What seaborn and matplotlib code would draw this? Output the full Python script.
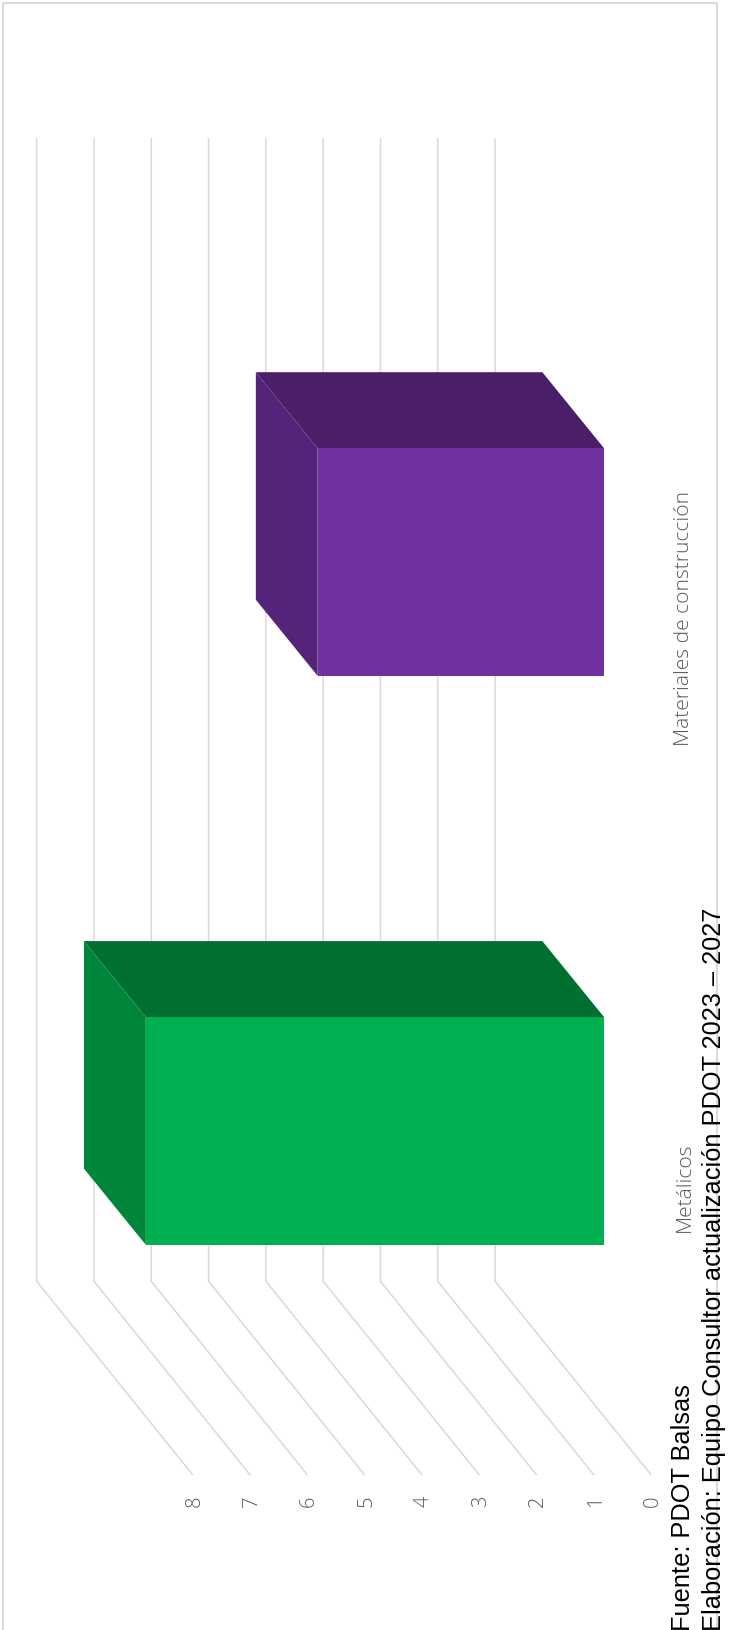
import matplotlib
matplotlib.use('Agg')
import matplotlib.pyplot as plt
from matplotlib.patches import Polygon, Rectangle
import pandas as pd
import seaborn as sns

# Values
categories = ['Metálicos', 'Materiales de construcción']
values = [8, 5]
value_ticks = [0, 1, 2, 3, 4, 5, 6, 7, 8]
front_colors = ['#00B050', '#7030A0']
side_colors = ['#00863C', '#54247A']
top_colors = ['#007030', '#4A1F68']

# Fake 3D depth, in data units
bar_dx, bar_dy = 1.08, 0.134
wall_dx = 1.905
floor_dx = -0.817
wall_top, wall_bottom, floor_end = 1.745, -0.264, -0.604

df = pd.DataFrame({'categoria': categories, 'valor': values})

sns.set_theme(style='white')
fig = plt.figure(figsize=(7.29, 16.31), dpi=100)
ax = fig.add_axes([0, 0, 1, 1])
ax.patch.set_alpha(0)

sns.barplot(data=df, x='valor', y='categoria', hue='categoria', palette=front_colors,
            order=categories, hue_order=categories, width=0.4, saturation=1,
            legend=False, linewidth=0, zorder=4, ax=ax)

# the whole chart is turned a quarter turn, values grow to the left
ax.set_xlim(10.545, -2.178)
ax.set_ylim(-0.877, 1.990)
ax.axis('off')

# grid lines on back wall and floor
for v in value_ticks:
    ax.plot([v + wall_dx, v + wall_dx, v + floor_dx], [wall_top, wall_bottom, floor_end],
            color='#D9D9D9', lw=1.1, zorder=1, solid_joinstyle='miter')
    ax.text(v + floor_dx - 0.035, floor_end - 0.045, str(v), rotation=90, ha='center', va='center',
            color='#595959', fontsize=14.5, family='Open Sans', fontweight='light')

# depth faces of the bars
bars = [container[0] for container in ax.containers]
for bar, side, top in zip(bars, side_colors, top_colors):
    val = bar.get_width()
    up = max(bar.get_y(), bar.get_y() + bar.get_height())
    low = min(bar.get_y(), bar.get_y() + bar.get_height())
    ax.add_patch(Polygon([(0, up), (val, up), (val + bar_dx, up + bar_dy), (bar_dx, up + bar_dy)],
                         closed=True, fc=top, ec='none', zorder=3))
    ax.add_patch(Polygon([(val, up), (val + bar_dx, up + bar_dy), (val + bar_dx, low + bar_dy), (val, low)],
                         closed=True, fc=side, ec='none', zorder=3))

# category labels
for i, name in enumerate(categories):
    ax.text(-1.40, i - 0.097, name, rotation=90, ha='center', va='center',
            color='#595959', fontsize=15.1, family='Open Sans', fontweight='light', zorder=5)

# frame
fig.add_artist(Rectangle((2.5 / 729, -0.01), 714 / 729, 1.0075, transform=fig.transFigure,
                         fill=False, ec='#D9D9D9', lw=1.4))

# source notes
fig.text(683 / 729, 0, 'Fuente: PDOT Balsas', rotation=90, ha='center', va='bottom',
         color='black', fontsize=18.3, family='Liberation Sans')
fig.text(714 / 729, 0, 'Elaboración: Equipo Consultor actualización PDOT 2023 – 2027', rotation=90,
         ha='center', va='bottom', color='black', fontsize=18.3, family='Liberation Sans')

fig.savefig('out.png', dpi=100)
